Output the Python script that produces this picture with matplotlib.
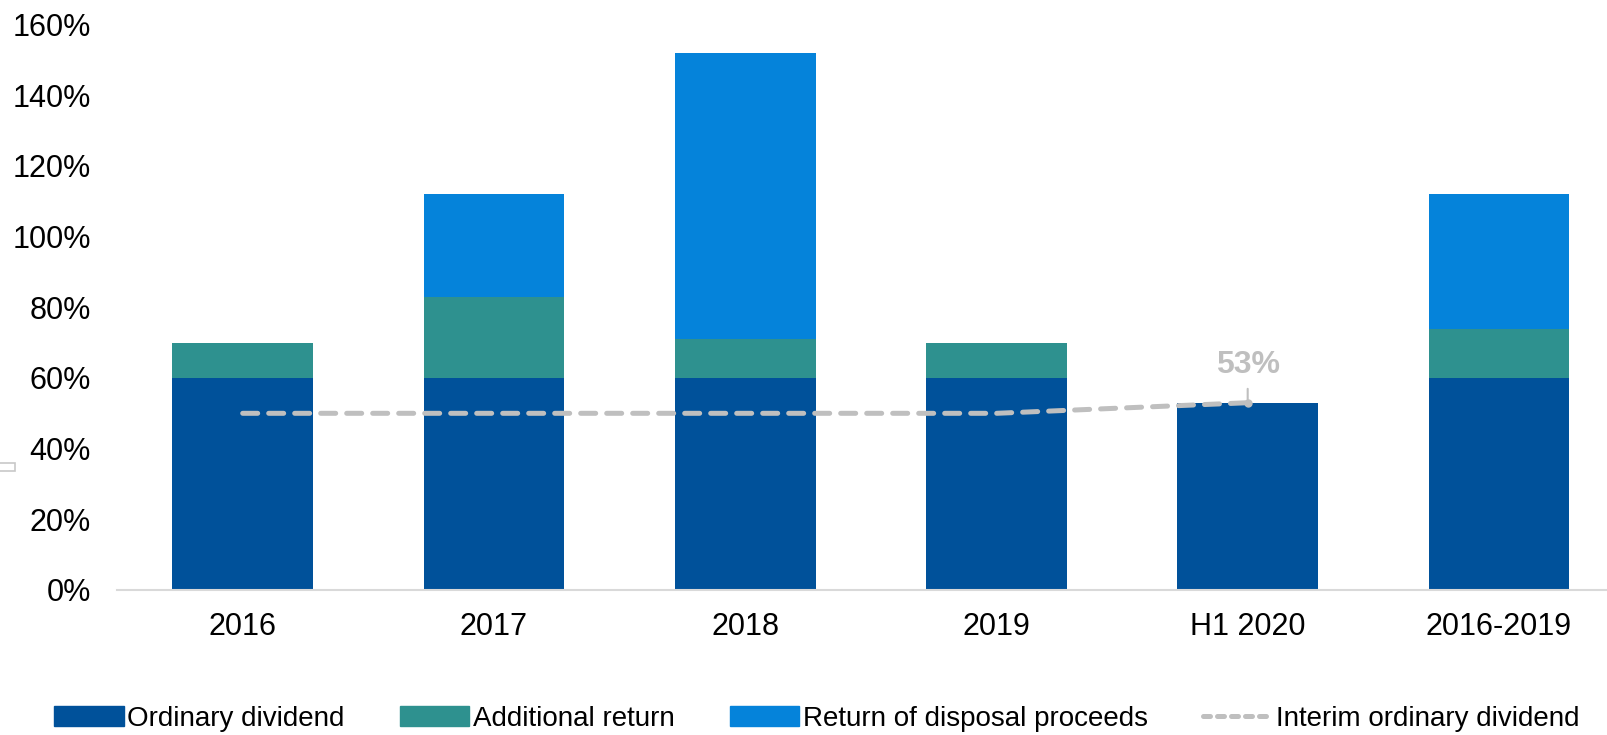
import matplotlib.pyplot as plt
from matplotlib.lines import Line2D
from matplotlib.patches import Patch, Rectangle
import numpy as np

plt.rcParams['font.family'] = ['Liberation Sans', 'DejaVu Sans']

categories = ['2016', '2017', '2018', '2019', 'H1 2020', '2016-2019']
ordinary = [60, 60, 60, 60, 53, 60]
additional = [10, 23, 11, 10, 0, 14]
disposal = [0, 29, 81, 0, 0, 38]
interim = [50, 50, 50, 50, 53]

c_ord = '#00519A'
c_add = '#2E918F'
c_disp = '#0583DA'
c_line = '#BFBFBF'

fig = plt.figure(figsize=(16.08, 7.35), dpi=100)
ax = fig.add_axes([0.0728, 0.1973, 0.9375, 0.7692])

x = np.arange(len(categories))
w = 0.56
ord_v = np.array(ordinary) / 100
add_v = np.array(additional) / 100
disp_v = np.array(disposal) / 100
ax.bar(x, ord_v, w, color=c_ord, zorder=2)
ax.bar(x, add_v, w, bottom=ord_v, color=c_add, zorder=2)
ax.bar(x, disp_v, w, bottom=ord_v + add_v, color=c_disp, zorder=2)

xi = np.arange(len(interim))
yi = np.array(interim) / 100
ax.plot(xi, yi, color=c_line, lw=3.6, ls=(0, (3.0, 2.2)), dash_capstyle='round', zorder=3)
ax.plot(xi[-1], yi[-1], 'o', color=c_line, ms=5, zorder=3)
ax.annotate(f'{interim[-1]}%', xy=(xi[-1], yi[-1]), xytext=(0, 16), textcoords='offset points',
            ha='center', va='bottom', color=c_line, fontsize=23, fontweight='bold',
            arrowprops=dict(arrowstyle='-', color=c_line, lw=1.5, shrinkA=4, shrinkB=0))

ax.set_xlim(-0.5, 5.5)
ax.set_ylim(0, 1.6)
ax.set_yticks(np.arange(0, 1.61, 0.2))
ax.set_yticklabels([f'{int(round(v * 100))}%' for v in np.arange(0, 1.61, 0.2)])
ax.set_xticks(x)
ax.set_xticklabels(categories)
ax.tick_params(axis='both', length=0, labelsize=22, colors='black')
ax.tick_params(axis='y', pad=19)
ax.tick_params(axis='x', pad=16)
for s in ['top', 'right', 'left']:
    ax.spines[s].set_visible(False)
ax.spines['bottom'].set_color('#D9D9D9')
ax.spines['bottom'].set_linewidth(1.5)

# leftover mark at left edge
fig.patches.append(Rectangle((-0.002, 0.359), 0.0115, 0.011, transform=fig.transFigure,
                             fill=False, edgecolor='#C8C8C8', lw=1.2))

handles = [Patch(color=c_ord), Patch(color=c_add), Patch(color=c_disp),
           Line2D([], [], color=c_line, lw=3.6, ls=(0, (1.4, 1.4)), dash_capstyle='round')]
labels = ['Ordinary dividend', 'Additional return', 'Return of disposal proceeds',
          'Interim ordinary dividend']
fig.legend(handles, labels, loc='center', bbox_to_anchor=(0.508, 0.022), ncol=4,
           frameon=False, fontsize=20, handlelength=2.5, handleheight=0.75,
           handletextpad=0.12, columnspacing=2.0)

fig.savefig('out.png', dpi=100)
